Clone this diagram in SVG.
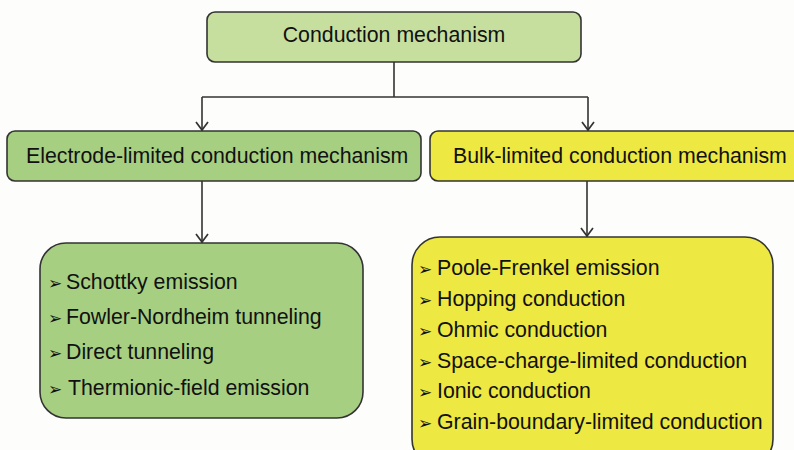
<svg xmlns="http://www.w3.org/2000/svg" width="794" height="450" viewBox="0 0 794 450">
<style>
.box{stroke:#333;stroke-width:1.6}
.lg{fill:#c6df9f}
.g{fill:#a6cf82}
.y{fill:#ede842}
.t{font-family:"Liberation Sans",Arial,sans-serif;font-size:21.3px;fill:#111}
.b{font-family:"DejaVu Sans",sans-serif;font-size:17px;fill:#111}
.c{fill:none;stroke:#333;stroke-width:1.6}
.h{fill:none;stroke:#333;stroke-width:1.7;stroke-linejoin:miter}
</style>
<rect width="794" height="450" fill="#fdfdfb"/>
<g id="connectors">
<polyline class="c" points="394,62 394,97"/>
<polyline class="c" points="202,97 588,97"/>
<line class="c" x1="202" y1="97" x2="202" y2="131"/>
<line class="c" x1="588" y1="97" x2="588" y2="131"/>
<line class="c" x1="202" y1="181" x2="202" y2="243"/>
<line class="c" x1="587" y1="181" x2="587" y2="237"/>
<polyline class="h" points="196,122 202,130 208,122"/>
<polyline class="h" points="582,122 588,130 594,122"/>
<polyline class="h" points="196,234 202,242 208,234"/>
<polyline class="h" points="581,228 587,236 593,228"/>
</g>
<g id="root">
<rect class="box lg" x="207" y="12" width="374" height="50" rx="8"/>
<text class="t" x="394" y="42" text-anchor="middle">Conduction mechanism</text>
</g>
<g id="electrode">
<rect class="box g" x="7" y="131" width="414" height="50" rx="8"/>
<text class="t" x="26" y="163">Electrode-limited conduction mechanism</text>
</g>
<g id="bulk">
<rect class="box y" x="430" y="131" width="380" height="50" rx="8"/>
<text class="t" x="453" y="163">Bulk-limited conduction mechanism</text>
</g>
<g id="electrode-list">
<rect class="box g" x="40" y="243" width="323" height="175" rx="26"/>
<text class="b" x="48" y="289">➢</text>
<text class="t" x="66" y="289">Schottky emission</text>
<text class="b" x="48" y="324">➢</text>
<text class="t" x="66" y="324">Fowler-Nordheim tunneling</text>
<text class="b" x="48" y="359">➢</text>
<text class="t" x="66" y="359">Direct tunneling</text>
<text class="b" x="48" y="395">➢</text>
<text class="t" x="68" y="395">Thermionic-field emission</text>
</g>
<g id="bulk-list">
<rect class="box y" x="412" y="237" width="361" height="230" rx="28"/>
<text class="b" x="418" y="275">➢</text>
<text class="t" x="437" y="275">Poole-Frenkel emission</text>
<text class="b" x="418" y="306">➢</text>
<text class="t" x="437" y="306">Hopping conduction</text>
<text class="b" x="418" y="337">➢</text>
<text class="t" x="437" y="337">Ohmic conduction</text>
<text class="b" x="418" y="368">➢</text>
<text class="t" x="437" y="368">Space-charge-limited conduction</text>
<text class="b" x="418" y="398">➢</text>
<text class="t" x="437" y="398">Ionic conduction</text>
<text class="b" x="418" y="429">➢</text>
<text class="t" x="437" y="429">Grain-boundary-limited conduction</text>
</g>
</svg>
